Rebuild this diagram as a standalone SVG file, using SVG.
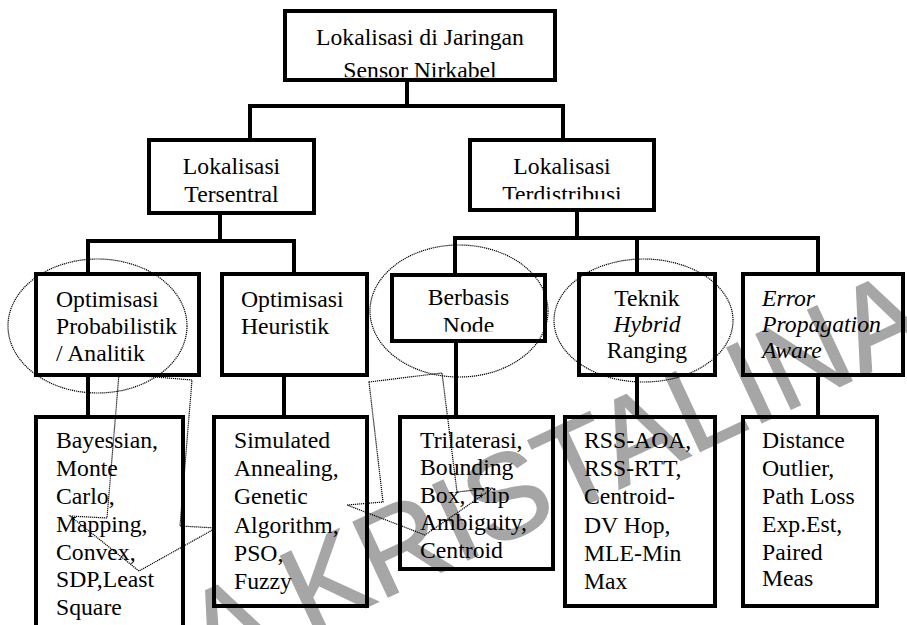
<svg xmlns="http://www.w3.org/2000/svg" width="907" height="625" viewBox="0 0 907 625">
<style>
.box{fill:none;stroke:#000;stroke-width:4}
.con{fill:none;stroke:#000;stroke-width:4;stroke-linecap:square}
text.t{font-family:'Liberation Serif','Times New Roman','DejaVu Serif',serif;font-size:23.7px;fill:#000}
text.c{text-anchor:middle}
text.i{font-style:italic}
.dot{fill:none;stroke:#000;stroke-width:1.2;stroke-dasharray:1.2 0.8}
text.wm{font-family:'Liberation Sans',Arial,sans-serif;font-size:120px;fill:#a6a6a6;stroke:#a6a6a6;stroke-width:1.5}
</style>
<defs>
<clipPath id="clipTop"><rect x="280" y="0" width="280" height="77.3"/></clipPath>
<clipPath id="clipTerd"><rect x="460" y="130" width="200" height="69.3"/></clipPath>
<clipPath id="clipNode"><rect x="385" y="270" width="170" height="61.7"/></clipPath>
<clipPath id="clipSq"><rect x="30" y="410" width="160" height="211"/></clipPath>
</defs>
<rect width="907" height="625" fill="#fff"/>
<text class="wm" transform="translate(210,680) rotate(-25)">A KRISTALINA</text>
<g id="connectors">
<path class="con" d="M407 82V106M250 139V106H563V139"/>
<path class="con" d="M220 215V241M88 272V241H294V272"/>
<path class="con" d="M577 212V238M455 273V238H818V272M637 238V272"/>
<path class="con" d="M88 377V415M284 377V415M456 343V415M637 377V415M818 377V415"/>
</g>
<g id="root">
<rect class="box" x="285" y="11" width="270" height="69"/>
<text class="t c" x="420" y="45">Lokalisasi di Jaringan</text>
<text class="t c" x="420" y="78" clip-path="url(#clipTop)">Sensor Nirkabel</text>
</g>
<g id="tersentral">
<rect class="box" x="149" y="140" width="165" height="73"/>
<text class="t c" x="231.5" y="174">Lokalisasi</text>
<text class="t c" x="231.5" y="202">Tersentral</text>
</g>
<g id="terdistribusi">
<rect class="box" x="470" y="140" width="184" height="70"/>
<text class="t c" x="562" y="174">Lokalisasi</text>
<text class="t c" x="562" y="202" clip-path="url(#clipTerd)">Terdistribusi</text>
</g>
<g id="opt-prob">
<rect class="box" x="36" y="274" width="163" height="101"/>
<text class="t" x="56" y="307">Optimisasi</text>
<text class="t" x="56" y="334">Probabilistik</text>
<text class="t" x="56" y="361">/ Analitik</text>
</g>
<g id="opt-heur">
<rect class="box" x="222" y="274" width="145" height="101"/>
<text class="t" x="241" y="307">Optimisasi</text>
<text class="t" x="241" y="334">Heuristik</text>
</g>
<g id="berbasis">
<rect class="box" x="392" y="275" width="153" height="66"/>
<text class="t c" x="468.5" y="305">Berbasis</text>
<text class="t c" x="468.5" y="333" clip-path="url(#clipNode)">Node</text>
</g>
<g id="teknik">
<rect class="box" x="579" y="274" width="136" height="101"/>
<text class="t c" x="647" y="306">Teknik</text>
<text class="t c i" x="647" y="332">Hybrid</text>
<text class="t c" x="647" y="358">Ranging</text>
</g>
<g id="error">
<rect class="box" x="743" y="274" width="160" height="101"/>
<text class="t i" x="762" y="306">Error</text>
<text class="t i" x="762" y="332">Propagation</text>
<text class="t i" x="762" y="358">Aware</text>
</g>
<g id="list-prob">
<rect class="box" x="36" y="417" width="147" height="230"/>
<g clip-path="url(#clipSq)">
<text class="t" x="56" y="448">Bayessian,</text>
<text class="t" x="56" y="476">Monte</text>
<text class="t" x="56" y="504">Carlo,</text>
<text class="t" x="56" y="532">Mapping,</text>
<text class="t" x="56" y="560">Convex,</text>
<text class="t" x="56" y="587">SDP,Least</text>
<text class="t" x="56" y="615">Square</text>
</g>
</g>
<g id="list-heur">
<rect class="box" x="214" y="417" width="153" height="189"/>
<text class="t" x="234" y="448">Simulated</text>
<text class="t" x="234" y="476">Annealing,</text>
<text class="t" x="234" y="504">Genetic</text>
<text class="t" x="234" y="533">Algorithm,</text>
<text class="t" x="234" y="561">PSO,</text>
<text class="t" x="234" y="589">Fuzzy</text>
</g>
<g id="list-node">
<rect class="box" x="400" y="417" width="153" height="152"/>
<text class="t" x="420" y="448">Trilaterasi,</text>
<text class="t" x="420" y="475">Bounding</text>
<text class="t" x="420" y="503">Box, Flip</text>
<text class="t" x="420" y="530">Ambiguity,</text>
<text class="t" x="420" y="558">Centroid</text>
</g>
<g id="list-hybrid">
<rect class="box" x="565" y="417" width="150" height="189"/>
<text class="t" x="584" y="448">RSS-AOA,</text>
<text class="t" x="584" y="476">RSS-RTT,</text>
<text class="t" x="584" y="504">Centroid-</text>
<text class="t" x="584" y="533">DV Hop,</text>
<text class="t" x="584" y="561">MLE-Min</text>
<text class="t" x="584" y="589">Max</text>
</g>
<g id="list-error">
<rect class="box" x="743" y="417" width="134" height="189"/>
<text class="t" x="762" y="448">Distance</text>
<text class="t" x="762" y="476">Outlier,</text>
<text class="t" x="762" y="504">Path Loss</text>
<text class="t" x="762" y="532">Exp.Est,</text>
<text class="t" x="762" y="560">Paired</text>
<text class="t" x="762" y="586">Meas</text>
</g>
<g id="annotations">
<ellipse class="dot" cx="97.5" cy="326" rx="89.5" ry="67"/>
<ellipse class="dot" cx="459" cy="311" rx="89" ry="66"/>
<ellipse class="dot" cx="643.5" cy="320.5" rx="89.5" ry="61.5"/>
<polygon class="dot" points="119,374 192,380 180,526 216,528 139,571 70,516 107,518"/>
<polygon class="dot" points="369,382 442,373 457,492 493,488 425,535 347,505 383,502"/>
</g>
</svg>
